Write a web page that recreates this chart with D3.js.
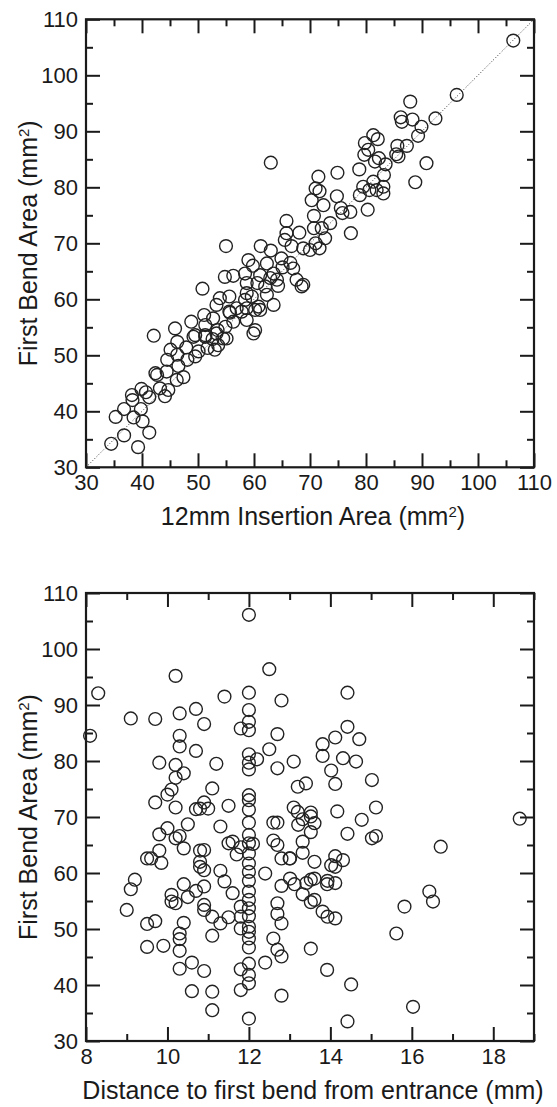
<!DOCTYPE html>
<meta charset="utf-8">
<style>
body { margin: 0; background: #fff; }
svg { display: block; font-family: "Liberation Sans", Arial, Helvetica, sans-serif; }
.axis text { font-size: 22px; fill: #1a1a1a; }
.axis line { stroke: #1a1a1a; stroke-width: 2; }
.axis path { display: none; }
.title { font-size: 25px; fill: #1a1a1a; }
</style>
<svg width="557" height="1107"></svg>
<script src="https://d3js.org/d3.v7.min.js"></script>
<script>

// top panel: 12mm insertion area (x) vs first bend area (y), mm^2
var insertionVsBend = [
  [34.5,34.2],[39.3,33.6],[36.8,35.7],[41.3,36.2],[35.3,39.0],[38.5,38.9],[40.1,38.2],[36.8,40.4],
  [39.8,40.4],[38.2,42.9],[38.3,42.0],[39.9,44.0],[40.7,43.4],[41.3,42.5],[42.1,53.5],[42.4,46.8],
  [42.7,46.5],[43.2,44.1],[44.1,42.7],[44.7,43.8],[44.4,47.1],[44.5,49.2],[45.1,51.0],[45.9,54.8],
  [46.3,52.4],[46.3,50.1],[46.5,48.1],[46.2,45.6],[47.4,46.1],[47.9,51.4],[48.1,49.2],[48.8,56.0],
  [49.2,53.3],[49.5,49.8],[50.1,50.7],[50.8,61.9],[51.1,57.2],[51.3,55.4],[51.3,53.3],[51.7,51.3],
  [52.6,52.9],[52.7,56.6],[53.0,51.0],[53.3,59.0],[53.5,54.5],[53.6,51.8],[53.9,60.2],[54.5,53.0],
  [54.9,55.1],[55.6,60.5],[55.6,57.8],[56.3,56.0],[56.9,58.4],[58.4,59.9],[58.7,56.3],[58.7,61.1],
  [49.5,53.6],[51.3,53.6],[53.3,53.9],[55.1,53.0],[60.2,54.5],[59.9,53.9],[55.7,57.6],[57.8,57.8],
  [58.7,58.4],[60.2,58.1],[61.1,58.1],[59.6,60.5],[62.3,60.8],[63.5,59.0],[60.8,58.7],
  [55.0,69.5],[54.8,64.0],[56.3,64.2],[58.4,64.6],[61.1,64.3],[62.9,63.8],[64.1,63.5],[58.7,62.9],
  [60.6,62.9],[62.0,62.3],[64.3,62.4],[67.6,63.5],[68.8,62.6],[68.5,62.3],[63.0,84.4],
  [59.0,67.0],[59.8,66.0],[62.3,66.4],[64.9,67.3],[66.5,66.5],[67.0,65.5],[63.5,64.6],[65.1,65.7],
  [61.2,69.5],[63.0,68.7],[65.5,70.6],[66.7,69.5],[68.8,69.1],[71.0,70.0],[71.7,69.1],[70.0,68.8],
  [65.8,74.0],[65.8,71.8],[68.1,71.9],[70.7,72.7],[72.1,72.7],[73.6,73.6],[70.7,74.9],[71.5,81.9],
  [71.0,79.8],[71.7,79.3],[70.3,77.7],[72.4,76.8],[74.8,78.4],[75.5,76.3],[75.8,75.4],[77.2,75.6],
  [77.3,71.8],[74.9,82.6],[72.7,70.9],
  [106.3,106.2],[96.2,96.5],[92.4,92.3],[87.9,95.3],[86.2,92.5],[86.4,91.7],[88.3,92.1],[89.9,90.8],
  [89.3,89.2],[90.8,84.3],[88.8,80.9],[87.3,87.4],[85.6,87.4],[85.4,85.9],[85.8,85.5],[81.3,89.3],
  [82.1,88.6],[79.8,87.9],[80.4,86.7],[79.7,85.8],[81.6,84.6],[82.3,85.2],[83.5,84.1],[78.8,83.2],
  [83.2,82.2],[83.1,80.1],[81.3,81.0],[81.9,79.5],[80.6,79.5],[83.1,78.9],[80.3,76.0],[79.5,80.1],
  [78.9,78.6]
];

// bottom panel: distance to first bend (x, mm) vs first bend area (y, mm^2)
var distanceVsBend = [
  [12.0,106.1],[12.5,96.4],[10.2,95.2],[8.3,92.1],[11.4,91.5],[12.0,92.2],[12.8,90.8],[10.7,89.3],
  [10.3,88.5],[9.1,87.6],[9.7,87.5],[12.0,89.1],[12.0,87.0],[10.9,86.6],[11.8,85.8],[12.0,85.5],
  [12.7,84.8],[8.1,84.5],[10.3,84.5],[10.3,82.6],[10.7,81.8],[12.5,82.1],[12.0,81.2],[12.0,79.7],
  [12.2,80.3],[12.0,78.5],[12.7,78.7],[13.1,79.9],[9.8,79.7],[10.2,79.3],[10.4,77.8],[11.2,79.5],
  [10.2,77.0],[10.1,74.9],[10.0,74.0],[11.1,75.1],[9.7,72.6],[10.2,71.7],[10.7,71.4],[10.8,71.5],
  [10.9,72.6],[11.0,71.5],[11.5,72.0],[12.0,73.9],[12.0,73.0],[12.0,71.3],[13.1,71.7],[13.2,75.4],
  [13.4,76.0],[13.2,70.9],
  [14.42,92.2],[14.42,86.1],[14.12,84.2],[14.71,83.9],[13.81,83.0],[13.81,80.9],[14.31,80.5],
  [14.63,79.9],[14.02,78.3],[14.12,75.9],[15.02,76.6],[15.12,71.7],[14.17,71.0],[14.77,69.5],
  [14.42,67.0],[15.02,66.2],[15.12,66.6],[16.71,64.7],[18.65,69.7],[13.52,70.8],[13.52,70.1],
  [13.32,69.6],[13.21,68.6],[13.61,68.9],[13.52,67.3],[13.32,65.6],[13.32,63.6],[13.01,62.6],
  [13.61,62.0],[14.12,63.0],[14.31,62.3],[14.02,61.4],[14.12,61.1],[13.01,59.0],[13.12,58.0],
  [13.41,58.2],[13.52,58.8],[13.61,59.0],[13.93,58.6],[14.12,58.2],[13.92,58.0],[13.32,56.2],
  [13.52,54.8],[13.61,55.2],[13.81,53.1],[13.93,52.2],[14.12,51.9],[16.43,56.7],[16.52,54.9],
  [15.82,54.0],[15.62,49.2],[13.52,46.5],[13.92,42.7],[14.51,40.1],[16.03,36.1],[14.42,33.5],
  [12.0,34.0],[11.1,35.5],[10.6,38.9],[11.1,38.8],[11.8,39.1],[12.8,38.1],[12.0,40.3],[12.0,41.8],
  [11.8,42.8],[12.0,43.8],[10.9,42.5],[10.6,44.0],[10.3,42.9],[12.4,44.0],[12.8,45.1],[12.7,46.3],
  [12.6,48.3],[12.0,46.7],[12.0,48.3],[12.0,49.5],[10.3,46.1],[10.3,48.2],[10.3,49.2],[10.4,51.1],
  [9.9,47.0],[9.5,46.8],[9.5,50.9],[9.7,51.4],[9.0,53.4],[9.1,57.1],[9.2,58.8],[11.1,48.8],
  [10.9,53.4],[11.1,52.2],[11.3,51.0],[11.5,52.1],[11.6,56.4],[11.8,54.0],[11.8,52.2],[11.8,50.1],
  [12.0,50.4],[12.0,52.3],[12.0,53.7],[12.0,55.2],[12.0,56.7],[12.0,58.6],[12.0,60.2],[12.0,61.7],
  [12.0,63.5],[12.0,65.3],[12.0,66.8],[12.0,69.0],[12.1,65.2],[11.8,64.6],[11.7,63.3],[11.6,65.6],
  [11.5,65.3],[11.3,60.4],[11.4,58.5],[10.9,60.5],[10.9,57.6],[10.9,54.3],[10.8,62.0],[10.8,61.1],
  [10.9,64.1],[10.8,64.0],[10.7,56.8],[10.5,55.7],[10.1,56.1],[10.1,54.9],[10.2,54.6],[10.4,58.0],
  [9.85,61.8],[9.8,64.0],[9.5,62.6],[9.6,62.6],[9.8,66.9],[10.0,68.0],[10.2,66.2],[10.3,66.6],
  [10.4,64.4],[10.5,68.7],[11.3,68.3],[12.4,59.9],[12.8,62.6],[12.6,65.8],[12.7,65.0],[12.6,69.0],
  [12.7,69.0],[12.8,57.7],[12.7,54.6],[12.7,52.7],[12.8,51.0],[13.0,62.6]
];

var areaTicks = [30, 40, 50, 60, 70, 80, 90, 100, 110],
    areaMinor = [35, 45, 55, 65, 75, 85, 95, 105],
    distTicks = [8, 10, 12, 14, 16, 18],
    distMinor = [9, 11, 13, 15, 17, 19];

var svg = d3.select("svg");
svg.append("rect").attr("width", 557).attr("height", 1107).attr("fill", "#fff");

function panel(p) {
  var x = d3.scaleLinear().domain(p.xDomain).range([86, 534]),
      y = d3.scaleLinear().domain([30, 110]).range([p.bottom, p.bottom - 448]);

  var g = svg.append("g");

  // ticks on all four sides, pointing inward
  g.append("g").attr("class", "axis").attr("transform", "translate(0," + p.bottom + ")")
      .call(d3.axisBottom(x).tickValues(p.xTicks).tickSizeInner(-14).tickSizeOuter(0).tickPadding(7));
  g.append("g").attr("class", "axis").attr("transform", "translate(0," + p.bottom + ")")
      .call(d3.axisBottom(x).tickValues(p.xMinor).tickSizeInner(-7).tickSizeOuter(0).tickFormat(""));
  g.append("g").attr("class", "axis").attr("transform", "translate(0," + y(110) + ")")
      .call(d3.axisTop(x).tickValues(p.xTicks).tickSizeInner(-14).tickSizeOuter(0).tickFormat(""));
  g.append("g").attr("class", "axis").attr("transform", "translate(0," + y(110) + ")")
      .call(d3.axisTop(x).tickValues(p.xMinor).tickSizeInner(-7).tickSizeOuter(0).tickFormat(""));

  g.append("g").attr("class", "axis").attr("transform", "translate(86,0)")
      .call(d3.axisLeft(y).tickValues(areaTicks).tickSizeInner(-14).tickSizeOuter(0).tickPadding(8));
  g.append("g").attr("class", "axis").attr("transform", "translate(86,0)")
      .call(d3.axisLeft(y).tickValues(areaMinor).tickSizeInner(-7).tickSizeOuter(0).tickFormat(""));
  g.append("g").attr("class", "axis").attr("transform", "translate(534,0)")
      .call(d3.axisRight(y).tickValues(areaTicks).tickSizeInner(-14).tickSizeOuter(0).tickFormat(""));
  g.append("g").attr("class", "axis").attr("transform", "translate(534,0)")
      .call(d3.axisRight(y).tickValues(areaMinor).tickSizeInner(-7).tickSizeOuter(0).tickFormat(""));

  g.append("rect")
      .attr("x", 86).attr("y", y(110))
      .attr("width", 448).attr("height", 448)
      .attr("fill", "none").attr("stroke", "#1a1a1a").attr("stroke-width", 2.2);

  if (p.diagonal) {
    g.append("line")
        .attr("x1", x(30)).attr("y1", y(30)).attr("x2", x(110)).attr("y2", y(110))
        .attr("stroke", "#333").attr("stroke-width", 1).attr("stroke-dasharray", "1,2");
  }

  g.append("g").selectAll("circle")
    .data(p.data)
    .enter().append("circle")
      .attr("cx", function(d) { return x(d[0]); })
      .attr("cy", function(d) { return y(d[1]); })
      .attr("r", 6.4)
      .attr("fill", "none")
      .attr("stroke", "#222")
      .attr("stroke-width", 1.4);

  // x title
  var xt = g.append("text").attr("class", "title")
      .attr("x", 313).attr("y", p.bottom + 58).attr("text-anchor", "middle")
      .text(p.xTitle);
  if (p.xSup) {
    xt.append("tspan").attr("baseline-shift", "super").attr("font-size", 15).text("2");
    xt.append("tspan").text(")");
  }

  // y title
  var yt = g.append("text").attr("class", "title")
      .attr("transform", "translate(37," + (p.bottom - 224) + ") rotate(-90)")
      .attr("text-anchor", "middle")
      .text("First Bend Area (mm");
  yt.append("tspan").attr("baseline-shift", "super").attr("font-size", 15).text("2");
  yt.append("tspan").text(")");
}

panel({
  data: insertionVsBend, xDomain: [30, 110], xTicks: areaTicks, xMinor: areaMinor,
  bottom: 467.3, diagonal: true, xTitle: "12mm Insertion Area (mm", xSup: true
});

panel({
  data: distanceVsBend, xDomain: [8, 19], xTicks: distTicks, xMinor: distMinor,
  bottom: 1041, diagonal: false, xTitle: "Distance to first bend from entrance (mm)", xSup: false
});

</script>
